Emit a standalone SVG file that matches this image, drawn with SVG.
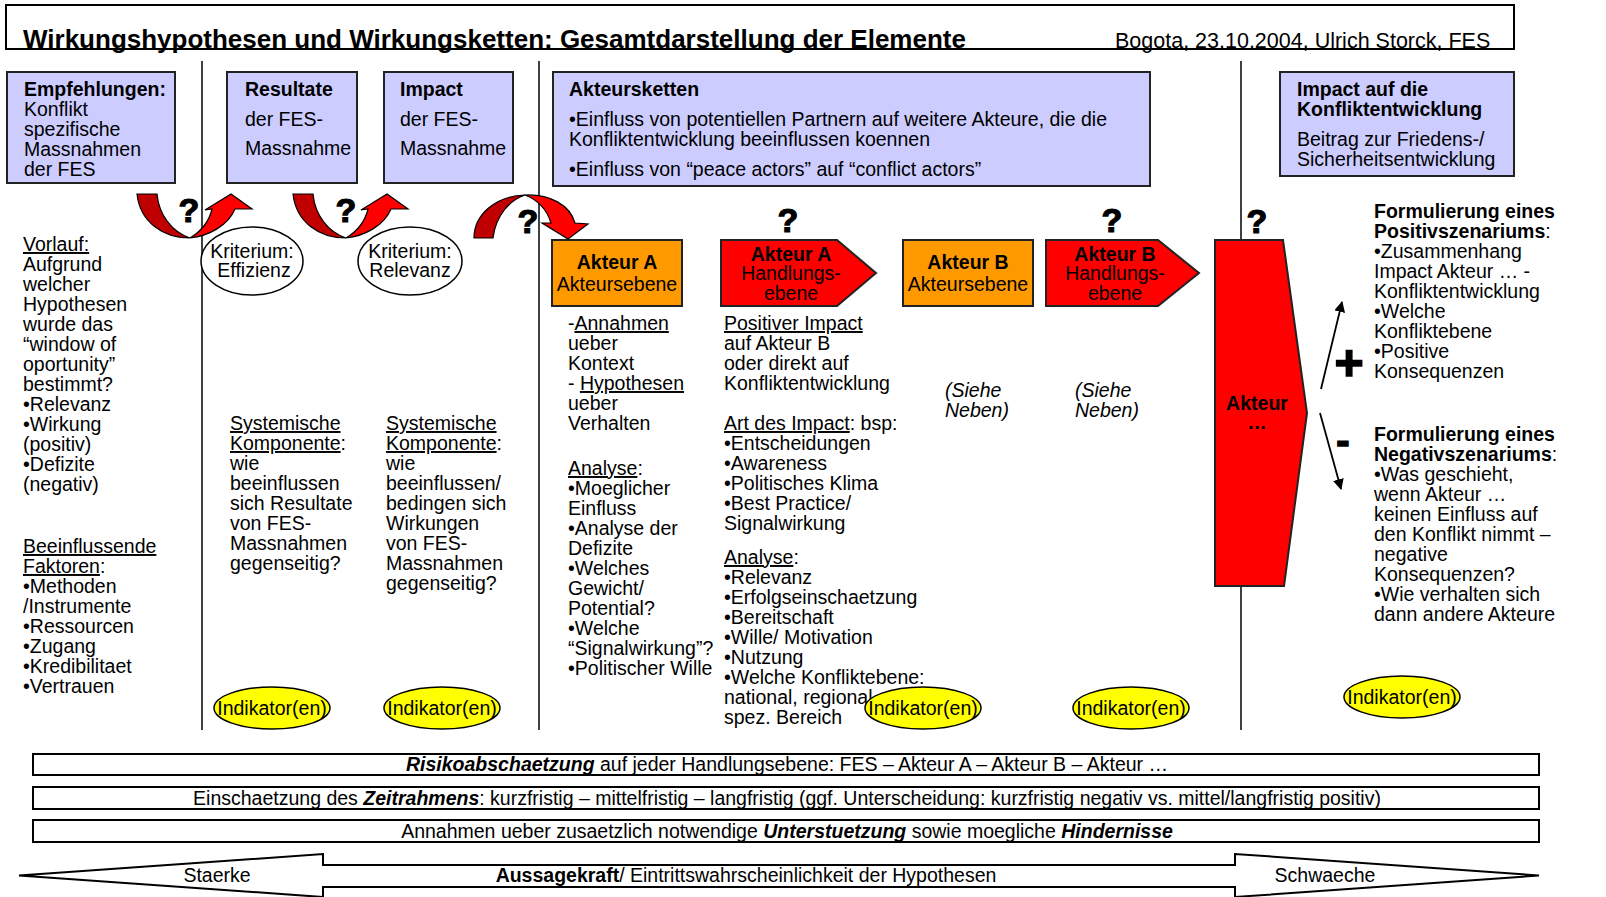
<svg xmlns="http://www.w3.org/2000/svg" width="1606" height="897" viewBox="0 0 1606 897">
<defs>
<style>
text{font-family:"Liberation Sans",Arial,sans-serif;font-size:19.5px;fill:#000}
.b{font-weight:bold}
.i{font-style:italic}
.u{text-decoration:underline}
.m{text-anchor:middle}
.s17{font-size:19.5px}
.lav{fill:#CCCCFF;stroke:#222;stroke-width:2}
.org{fill:#FF9900;stroke:#222;stroke-width:2}
.red{fill:#FF0000;stroke:#222;stroke-width:2}
.dred{fill:#C00000;stroke:#000;stroke-width:1.2}
.bred{fill:#FF0000;stroke:#000;stroke-width:1.2}
.ell{fill:#fff;stroke:#000;stroke-width:1.5}
.yel{fill:#FFFF00;stroke:#000;stroke-width:1.5}
.sep{stroke:#000;stroke-width:1.5}
.row{fill:#fff;stroke:#000;stroke-width:2}
.q{font-size:34px;font-weight:bold;stroke:#000;stroke-width:1.2}
.sign{font-weight:bold;stroke:#000;stroke-width:1.5}
</style>
<marker id="ah" viewBox="0 0 10 10" refX="9" refY="5" markerWidth="11" markerHeight="11" markerUnits="userSpaceOnUse" orient="auto"><path d="M0,0 L10,5 L0,10 Z" fill="#000"/></marker>
</defs>
<rect width="1606" height="897" fill="#fff"/>

<g id="title">
<rect x="6" y="5" width="1508" height="44" fill="none" stroke="#000" stroke-width="2"/>
<text x="23" y="48" class="b" style="font-size:26px">Wirkungshypothesen und Wirkungsketten: Gesamtdarstellung der Elemente</text>
<text x="1115" y="48" style="font-size:21.5px">Bogota, 23.10.2004, Ulrich Storck, FES</text>
</g>

<g id="separators">
<line class="sep" x1="202" y1="61" x2="202" y2="730"/>
<line class="sep" x1="539" y1="61" x2="539" y2="730"/>
<line class="sep" x1="1241" y1="61" x2="1241" y2="730"/>
</g>

<g id="box-empfehlungen">
<rect class="lav" x="7" y="72" width="168" height="111"/>
<text x="24" y="96" class="b">Empfehlungen:</text>
<text x="24" y="116">Konflikt</text>
<text x="24" y="136">spezifische</text>
<text x="24" y="156">Massnahmen</text>
<text x="24" y="176">der FES</text>
</g>

<g id="box-resultate">
<rect class="lav" x="227" y="72" width="130" height="111"/>
<text x="245" y="96" class="b">Resultate</text>
<text x="245" y="126">der FES-</text>
<text x="245" y="155">Massnahme</text>
</g>

<g id="box-impact">
<rect class="lav" x="384" y="72" width="129" height="111"/>
<text x="400" y="96" class="b">Impact</text>
<text x="400" y="126">der FES-</text>
<text x="400" y="155">Massnahme</text>
</g>

<g id="box-akteursketten">
<rect class="lav" x="553" y="72" width="597" height="114"/>
<text x="569" y="96" class="b">Akteursketten</text>
<text x="569" y="126">•Einfluss von potentiellen Partnern auf weitere Akteure, die die</text>
<text x="569" y="146">Konfliktentwicklung beeinflussen koennen</text>
<text x="569" y="176">•Einfluss von “peace actors” auf “conflict actors”</text>
</g>

<g id="box-impact-konflikt">
<rect class="lav" x="1280" y="72" width="234" height="104"/>
<text x="1297" y="96" class="b">Impact auf die</text>
<text x="1297" y="116" class="b">Konfliktentwicklung</text>
<text x="1297" y="146">Beitrag zur Friedens-/</text>
<text x="1297" y="166">Sicherheitsentwicklung</text>
</g>

<g id="kriterium-effizienz">
<ellipse class="ell" cx="252" cy="261" rx="51" ry="34"/>
<text x="252" y="258" class="m">Kriterium:</text>
<text x="254" y="277" class="m">Effizienz</text>
</g>
<g id="kriterium-relevanz">
<ellipse class="ell" cx="410" cy="261" rx="52" ry="34"/>
<text x="410" y="258" class="m">Kriterium:</text>
<text x="410" y="277" class="m">Relevanz</text>
</g>

<g id="akteur-a-akteursebene">
<rect class="org" x="552" y="240" width="130" height="66"/>
<text x="617" y="269" class="b m">Akteur A</text>
<text x="617" y="291" class="m">Akteursebene</text>
</g>
<g id="akteur-a-handlungsebene">
<polygon class="red" points="721,240 837,240 876,273 837,306 721,306"/>
<text x="791" y="261" class="b m">Akteur A</text>
<text x="791" y="280" class="m">Handlungs-</text>
<text x="791" y="300" class="m">ebene</text>
</g>
<g id="akteur-b-akteursebene">
<rect class="org" x="903" y="240" width="130" height="66"/>
<text x="968" y="269" class="b m">Akteur B</text>
<text x="968" y="291" class="m">Akteursebene</text>
</g>
<g id="akteur-b-handlungsebene">
<polygon class="red" points="1046,240 1158,240 1199,273 1158,306 1046,306"/>
<text x="1115" y="261" class="b m">Akteur B</text>
<text x="1115" y="280" class="m">Handlungs-</text>
<text x="1115" y="300" class="m">ebene</text>
</g>
<g id="akteur-n">
<polygon class="red" points="1215,240 1283,240 1307,413 1284,586 1215,586"/>
<text x="1257" y="410" class="b m">Akteur</text>
<text x="1257" y="429" class="b m">…</text>
</g>

<g id="connectors">
<path class="dred" d="M137,194 L157,194 C159,215 172,232 190,238 C163,238 140,222 137,194 Z"/>
<path class="bred" d="M190,238 C208,236 228,226 235,209 L252,209 L231,194 L205,210 L212,209 C209,222 200,232 190,238 Z"/>
<path class="dred" d="M293,194 L313,194 C315,215 328,232 346,238 C319,238 296,222 293,194 Z"/>
<path class="bred" d="M346,238 C364,236 384,226 391,209 L408,209 L387,194 L361,210 L368,209 C365,222 356,232 346,238 Z"/>
<path class="dred" d="M474,238 C474,215 495,196 525,195 C510,200 496,215 493,238 Z"/>
<path class="bred" d="M525,195 C550,194 570,205 575,223 L588,224 L568,239 L542,223 L551,223 C547,210 538,200 525,195 Z"/>
<line x1="1321" y1="389" x2="1342" y2="302" stroke="#000" stroke-width="1.8" marker-end="url(#ah)"/>
<line x1="1320" y1="413" x2="1341" y2="489" stroke="#000" stroke-width="1.8" marker-end="url(#ah)"/>
</g>

<g id="questions">
<text x="189" y="222" class="q m">?</text>
<text x="346" y="222" class="q m">?</text>
<text x="528" y="233" class="q m">?</text>
<text x="788" y="232" class="q m">?</text>
<text x="1112" y="232" class="q m">?</text>
<text x="1257" y="233" class="q m">?</text>
<text x="1349" y="380" class="sign m" style="font-size:50px">+</text>
<text x="1343" y="454" class="sign m" style="font-size:40px">-</text>
</g>

<g id="text-vorlauf">
<text x="23" y="251" class="u">Vorlauf:</text>
<text x="23" y="271">Aufgrund</text>
<text x="23" y="291">welcher</text>
<text x="23" y="311">Hypothesen</text>
<text x="23" y="331">wurde das</text>
<text x="23" y="351">“window of</text>
<text x="23" y="371">oportunity”</text>
<text x="23" y="391">bestimmt?</text>
<text x="23" y="411">•Relevanz</text>
<text x="23" y="431">•Wirkung</text>
<text x="23" y="451">(positiv)</text>
<text x="23" y="471">•Defizite</text>
<text x="23" y="491">(negativ)</text>
<text x="23" y="553" class="u">Beeinflussende</text>
<text x="23" y="573"><tspan class="u">Faktoren</tspan>:</text>
<text x="23" y="593">•Methoden</text>
<text x="23" y="613">/Instrumente</text>
<text x="23" y="633">•Ressourcen</text>
<text x="23" y="653">•Zugang</text>
<text x="23" y="673">•Kredibilitaet</text>
<text x="23" y="693">•Vertrauen</text>
</g>

<g id="text-system-resultate">
<text x="230" y="430" class="u">Systemische</text>
<text x="230" y="450"><tspan class="u">Komponente</tspan>:</text>
<text x="230" y="470">wie</text>
<text x="230" y="490">beeinflussen</text>
<text x="230" y="510">sich Resultate</text>
<text x="230" y="530">von FES-</text>
<text x="230" y="550">Massnahmen</text>
<text x="230" y="570">gegenseitig?</text>
</g>

<g id="text-system-impact">
<text x="386" y="430" class="u">Systemische</text>
<text x="386" y="450"><tspan class="u">Komponente</tspan>:</text>
<text x="386" y="470">wie</text>
<text x="386" y="490">beeinflussen/</text>
<text x="386" y="510">bedingen sich</text>
<text x="386" y="530">Wirkungen</text>
<text x="386" y="550">von FES-</text>
<text x="386" y="570">Massnahmen</text>
<text x="386" y="590">gegenseitig?</text>
</g>

<g id="text-akteur-a">
<text x="568" y="330">-<tspan class="u">Annahmen</tspan></text>
<text x="568" y="350">ueber</text>
<text x="568" y="370">Kontext</text>
<text x="568" y="390">- <tspan class="u">Hypothesen</tspan></text>
<text x="568" y="410">ueber</text>
<text x="568" y="430">Verhalten</text>
<text x="568" y="475"><tspan class="u">Analyse</tspan>:</text>
<text x="568" y="495">•Moeglicher</text>
<text x="568" y="515">Einfluss</text>
<text x="568" y="535">•Analyse der</text>
<text x="568" y="555">Defizite</text>
<text x="568" y="575">•Welches</text>
<text x="568" y="595">Gewicht/</text>
<text x="568" y="615">Potential?</text>
<text x="568" y="635">•Welche</text>
<text x="568" y="655">“Signalwirkung”?</text>
<text x="568" y="675">•Politischer Wille</text>
</g>

<g id="text-akteur-a-handlung">
<text x="724" y="330" class="u">Positiver Impact</text>
<text x="724" y="350">auf Akteur B</text>
<text x="724" y="370">oder direkt auf</text>
<text x="724" y="390">Konfliktentwicklung</text>
<text x="724" y="430"><tspan class="u">Art des Impact</tspan>: bsp:</text>
<text x="724" y="450">•Entscheidungen</text>
<text x="724" y="470">•Awareness</text>
<text x="724" y="490">•Politisches Klima</text>
<text x="724" y="510">•Best Practice/</text>
<text x="724" y="530">Signalwirkung</text>
<text x="724" y="564"><tspan class="u">Analyse</tspan>:</text>
<text x="724" y="584">•Relevanz</text>
<text x="724" y="604">•Erfolgseinschaetzung</text>
<text x="724" y="624">•Bereitschaft</text>
<text x="724" y="644">•Wille/ Motivation</text>
<text x="724" y="664">•Nutzung</text>
<text x="724" y="684">•Welche Konfliktebene:</text>
<text x="724" y="704">national, regional,</text>
<text x="724" y="724">spez. Bereich</text>
</g>

<g id="text-siehe">
<text x="945" y="397" class="i">(Siehe</text>
<text x="945" y="417" class="i">Neben)</text>
<text x="1075" y="397" class="i">(Siehe</text>
<text x="1075" y="417" class="i">Neben)</text>
</g>

<g id="text-szenarien">
<text x="1374" y="218" class="b">Formulierung eines</text>
<text x="1374" y="238"><tspan class="b">Positivszenariums</tspan>:</text>
<text x="1374" y="258">•Zusammenhang</text>
<text x="1374" y="278">Impact Akteur … -</text>
<text x="1374" y="298">Konfliktentwicklung</text>
<text x="1374" y="318">•Welche</text>
<text x="1374" y="338">Konfliktebene</text>
<text x="1374" y="358">•Positive</text>
<text x="1374" y="378">Konsequenzen</text>
<text x="1374" y="441" class="b">Formulierung eines</text>
<text x="1374" y="461"><tspan class="b">Negativszenariums</tspan>:</text>
<text x="1374" y="481">•Was geschieht,</text>
<text x="1374" y="501">wenn Akteur …</text>
<text x="1374" y="521">keinen Einfluss auf</text>
<text x="1374" y="541">den Konflikt nimmt –</text>
<text x="1374" y="561">negative</text>
<text x="1374" y="581">Konsequenzen?</text>
<text x="1374" y="601">•Wie verhalten sich</text>
<text x="1374" y="621">dann andere Akteure</text>
</g>

<g id="indikator-1"><ellipse class="yel" cx="272" cy="708" rx="58" ry="21"/><text x="272" y="715" class="m">Indikator(en)</text></g>
<g id="indikator-2"><ellipse class="yel" cx="442" cy="708" rx="58" ry="21"/><text x="442" y="715" class="m">Indikator(en)</text></g>
<g id="indikator-3"><ellipse class="yel" cx="923" cy="708" rx="58" ry="21"/><text x="923" y="715" class="m">Indikator(en)</text></g>
<g id="indikator-4"><ellipse class="yel" cx="1131" cy="708" rx="58" ry="21"/><text x="1131" y="715" class="m">Indikator(en)</text></g>
<g id="indikator-5"><ellipse class="yel" cx="1402" cy="697" rx="58" ry="21"/><text x="1402" y="704" class="m">Indikator(en)</text></g>

<g id="row-risiko">
<rect class="row" x="33" y="754" width="1506" height="21"/>
<text x="787" y="771" class="m s17"><tspan class="b i">Risikoabschaetzung</tspan> auf jeder Handlungsebene: FES – Akteur A – Akteur B – Akteur …</text>
</g>
<g id="row-zeitrahmen">
<rect class="row" x="33" y="787" width="1506" height="22"/>
<text x="787" y="805" class="m s17">Einschaetzung des <tspan class="b i">Zeitrahmens</tspan>: kurzfristig – mittelfristig – langfristig (ggf. Unterscheidung: kurzfristig negativ vs. mittel/langfristig positiv)</text>
</g>
<g id="row-unterstuetzung">
<rect class="row" x="33" y="820" width="1506" height="22"/>
<text x="787" y="838" class="m s17">Annahmen ueber zusaetzlich notwendige <tspan class="b i">Unterstuetzung</tspan> sowie moegliche <tspan class="b i">Hindernisse</tspan></text>
</g>

<g id="aussagekraft">
<polygon points="19,875.5 323,854 323,865 1235,865 1235,854 1539,875.5 1235,897 1235,887 323,887 323,897" fill="#fff" stroke="#000" stroke-width="2"/>
<text x="217" y="882" class="m s17">Staerke</text>
<text x="746" y="882" class="m s17"><tspan class="b">Aussagekraft</tspan>/ Eintrittswahrscheinlichkeit der Hypothesen</text>
<text x="1325" y="882" class="m s17">Schwaeche</text>
</g>
</svg>
